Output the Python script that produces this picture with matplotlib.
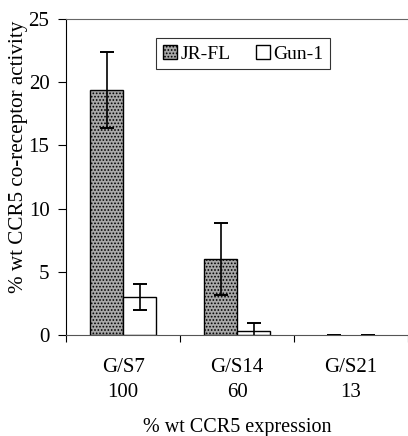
import numpy as np
import matplotlib
matplotlib.use('Agg')
import matplotlib.pyplot as plt

plt.rcParams['font.family'] = ['Liberation Serif', 'DejaVu Serif']
plt.rcParams['hatch.linewidth'] = 0.8

groups = ['G/S7\n100', 'G/S14\n60', 'G/S21\n13']
jrfl = [19.4, 6.0, 0.0]
jrfl_err = [3.0, 2.85, 0.0]
gun1 = [3.0, 0.3, 0.0]
gun1_err = [1.0, 0.6, 0.0]

fig = plt.figure(figsize=(4.08, 4.36), dpi=100)
ax = fig.add_axes([0.162, 0.232, 0.838, 0.724])

x = np.arange(len(groups))
w = 0.29
ec1 = ['black' if v > 0 else 'none' for v in jrfl]
ec2 = ['black' if v > 0 else 'none' for v in gun1]
ax.bar(x - w/2, jrfl, w, color='#a8a8a8', hatch='.....', edgecolor=ec1,
       linewidth=1.0, label='JR-FL')
ax.bar(x + w/2, gun1, w, color='white', edgecolor=ec2, linewidth=1.0,
       label='Gun-1')
ax.errorbar(x - w/2, jrfl, yerr=jrfl_err, fmt='none', ecolor='black',
            elinewidth=1.2, capsize=5, capthick=1.4)
ax.errorbar(x + w/2, gun1, yerr=gun1_err, fmt='none', ecolor='black',
            elinewidth=1.2, capsize=5, capthick=1.4)

ax.set_xlim(-0.5, 2.5)
ax.set_ylim(0, 25)
ax.set_yticks([0, 5, 10, 15, 20, 25])
ax.tick_params(axis='y', labelsize=15, direction='out', length=6, width=0.8, pad=6)
ax.set_xticks([-0.5, 0.5, 1.5, 2.5])
ax.set_xticklabels([])
ax.tick_params(axis='x', which='major', direction='out', length=5, width=0.8)
ax.set_xticks(x, minor=True)
ax.set_xticklabels(groups, minor=True, fontsize=15, linespacing=1.4)
ax.tick_params(axis='x', which='minor', length=0, pad=17)

for s in ['left', 'bottom', 'top']:
    ax.spines[s].set_linewidth(0.8)
ax.spines['top'].set_color('#666666')
ax.spines['bottom'].set_color('#555555')
ax.spines['right'].set_visible(False)

ax.set_ylabel('% wt CCR5 co-receptor activity', fontsize=15.2)
ax.yaxis.set_label_coords(-0.111, 0.563)
ax.set_xlabel('% wt CCR5 expression', fontsize=14.5)
ax.xaxis.set_label_coords(0.5, -0.265)

leg = ax.legend(loc='upper left', bbox_to_anchor=(0.264, 0.94), ncol=2,
                fontsize=14, frameon=True, fancybox=False, edgecolor='black',
                handlelength=0.7, handleheight=0.7, handletextpad=0.2,
                columnspacing=1.3, borderpad=0.35, borderaxespad=0)
leg.get_frame().set_linewidth(0.8)

fig.savefig('out.png', dpi=100)
